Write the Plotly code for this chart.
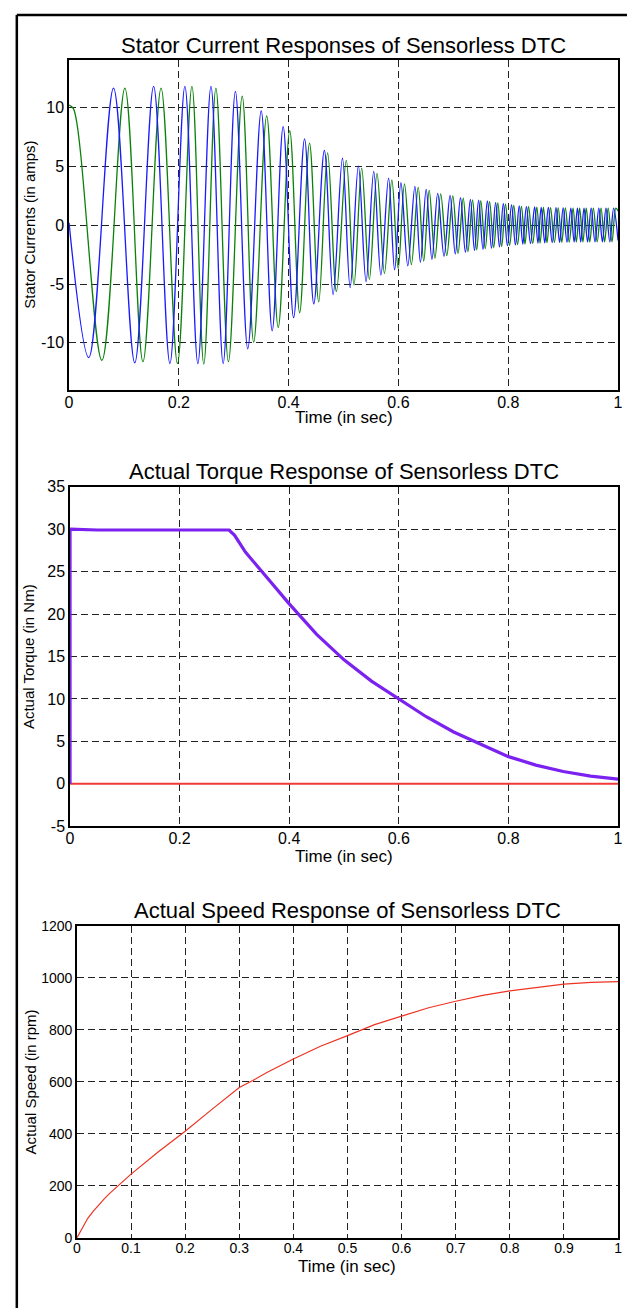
import plotly.graph_objects as go

# ---------------- data ----------------
# Plot 1: stator currents (extrema)
blue_peak_t = [0.081, 0.154, 0.211, 0.2585, 0.303, 0.350, 0.390, 0.429, 0.465, 0.498, 0.527, 0.555, 0.582,
               0.6045, 0.630, 0.6505, 0.6715, 0.694, 0.713, 0.731, 0.746, 0.762, 0.777, 0.791, 0.806, 0.820,
               0.833, 0.848, 0.860, 0.873, 0.887, 0.900, 0.914, 0.926, 0.938, 0.951, 0.965, 0.978, 0.992]
blue_peak_i = [11.64, 11.78, 11.78, 11.78, 11.36, 9.7, 8.36, 7.33, 6.35, 5.68, 5.03, 4.56, 4.0,
               3.6, 3.3, 3.03, 2.69, 2.52, 2.33, 2.19, 2.13, 2.05, 1.91, 1.83, 1.72, 1.63,
               1.58, 1.55, 1.5, 1.5, 1.48, 1.47, 1.45, 1.45, 1.45, 1.45, 1.45, 1.45, 1.45]
blue_trough_t = [0.036, 0.1197, 0.1837, 0.2346, 0.2807, 0.3255, 0.370, 0.409, 0.4458, 0.481, 0.512, 0.541,
                 0.568, 0.593, 0.617, 0.640, 0.661, 0.683, 0.7035, 0.722, 0.7385, 0.754, 0.7695, 0.784,
                 0.7985, 0.813, 0.8265, 0.8405, 0.854, 0.8665, 0.880, 0.8935, 0.907, 0.920, 0.932, 0.9445,
                 0.958, 0.9715, 0.985]
blue_trough_i = [-11.25, -11.7, -11.75, -11.75, -11.75, -10.5, -8.97, -7.86, -6.69, -5.9, -5.3, -4.8,
                 -4.24, -3.8, -3.45, -3.15, -2.9, -2.65, -2.45, -2.3, -2.15, -2.05, -1.95, -1.85,
                 -1.75, -1.68, -1.62, -1.57, -1.53, -1.5, -1.48, -1.46, -1.45, -1.44, -1.43, -1.43,
                 -1.42, -1.42, -1.42]
blue_ends_t = [0.0, 1.0]
blue_ends_i = [0.2, -1.3]

green_peak_t = [0.1017, 0.1676, 0.2238, 0.2675, 0.3154, 0.360, 0.402, 0.438, 0.471, 0.505, 0.533, 0.561,
                0.588, 0.611, 0.636, 0.656, 0.677, 0.699, 0.718, 0.735, 0.750, 0.766, 0.781, 0.795,
                0.810, 0.824, 0.837, 0.852, 0.864, 0.877, 0.891, 0.904, 0.918, 0.930, 0.942, 0.955,
                0.969, 0.982, 0.996]
green_peak_i = [11.64, 11.64, 11.78, 11.64, 10.95, 9.28, 8.02, 6.96, 6.13, 5.5, 4.85, 4.4,
                3.85, 3.5, 3.2, 2.95, 2.65, 2.48, 2.3, 2.15, 2.08, 2.0, 1.88, 1.78,
                1.68, 1.6, 1.56, 1.52, 1.5, 1.48, 1.47, 1.46, 1.45, 1.45, 1.45, 1.45,
                1.45, 1.45, 1.45]
green_trough_t = [0.0598, 0.1346, 0.1975, 0.2454, 0.2903, 0.3363, 0.381, 0.420, 0.4548, 0.487, 0.519,
                  0.547, 0.5745, 0.5995, 0.6235, 0.646, 0.6665, 0.688, 0.7085, 0.7265, 0.7425, 0.758,
                  0.7735, 0.788, 0.8025, 0.817, 0.8305, 0.8445, 0.858, 0.8705, 0.884, 0.8975, 0.911,
                  0.924, 0.936, 0.9485, 0.962, 0.9755, 0.989]
green_trough_i = [-11.48, -11.6, -11.75, -11.8, -11.6, -9.94, -8.69, -7.44, -6.52, -5.63, -5.1,
                  -4.6, -4.1, -3.7, -3.35, -3.05, -2.8, -2.58, -2.4, -2.25, -2.1, -2.0,
                  -1.9, -1.8, -1.72, -1.65, -1.6, -1.55, -1.52, -1.49, -1.47, -1.46, -1.45,
                  -1.44, -1.43, -1.43, -1.42, -1.42, -1.42]
green_ends_t = [0.0, 0.008, 1.0]
green_ends_i = [10.2, 9.9, 1.2]

# Plot 2: torque
torque_t = [0.0, 0.0, 0.05, 0.1, 0.15, 0.2, 0.25, 0.29, 0.30, 0.32, 0.35, 0.40, 0.45, 0.50, 0.55,
            0.60, 0.65, 0.70, 0.75, 0.80, 0.85, 0.90, 0.95, 1.0]
torque_v = [0, 30, 29.9, 29.9, 29.9, 29.9, 29.9, 29.9, 29.3, 27.3, 25.0, 21.2, 17.6, 14.6, 12.1,
            10.0, 7.9, 6.1, 4.6, 3.2, 2.2, 1.45, 0.9, 0.55]
load_t = [0.0, 1.0]
load_v = [0.0, 0.0]

# Plot 3: speed
speed_t = [0, 0.01, 0.02, 0.03, 0.04, 0.05, 0.06, 0.072, 0.1, 0.15, 0.2, 0.25, 0.3, 0.325, 0.35, 0.4,
           0.45, 0.5, 0.55, 0.6, 0.65, 0.7, 0.75, 0.8, 0.85, 0.9, 0.95, 1.0]
speed_v = [0, 40, 75, 102, 127, 149, 170, 193, 245, 330, 410, 495, 578, 605, 635, 688,
           737, 778, 820, 853, 885, 910, 933, 950, 964, 976, 983, 986]

# tick labels (MATLAB style, hyphen minus)
x_ticks_a = [0, 0.2, 0.4, 0.6, 0.8, 1]
x_labels_a = ["0", "0.2", "0.4", "0.6", "0.8", "1"]
x_ticks_b = [0, 0.1, 0.2, 0.3, 0.4, 0.5, 0.6, 0.7, 0.8, 0.9, 1]
x_labels_b = ["0", "0.1", "0.2", "0.3", "0.4", "0.5", "0.6", "0.7", "0.8", "0.9", "1"]
y1_ticks = [-10, -5, 0, 5, 10]
y1_labels = ["-10", "-5", "0", "5", "10"]
y2_ticks = [-5, 0, 5, 10, 15, 20, 25, 30, 35]
y2_labels = ["-5", "0", "5", "10", "15", "20", "25", "30", "35"]
y3_ticks = [0, 200, 400, 600, 800, 1000, 1200]
y3_labels = ["0", "200", "400", "600", "800", "1000", "1200"]

titles = ["Stator Current Responses of Sensorless DTC",
          "Actual Torque Response of Sensorless DTC",
          "Actual Speed Response of Sensorless DTC"]
ytitles = ["Stator Currents (in amps)", "Actual Torque (in Nm)", "Actual Speed (in rpm)"]
xtitle = "Time (in sec)"


def merge(*pairs):
    pts = []
    for t, v in pairs:
        pts += list(zip(t, v))
    pts.sort(key=lambda p: p[0])
    return [p[0] for p in pts], [p[1] for p in pts]


bt, bi = merge((blue_ends_t, blue_ends_i), (blue_peak_t, blue_peak_i), (blue_trough_t, blue_trough_i))
gt, gi = merge((green_ends_t, green_ends_i), (green_peak_t, green_peak_i), (green_trough_t, green_trough_i))

# ---------------- layout geometry (pixels of the 627x1308 page) ----------------
W, H = 627, 1308
FONT = "Liberation Sans"


def px(x):
    return x / W


def py(y):
    return 1 - y / H


boxes = [  # left, right, top, bottom
    (66, 623, 53, 387),
    (67, 623, 485, 829),
    (74, 623, 930, 1246),
]

fig = go.Figure()

fig.add_trace(go.Scatter(x=gt, y=gi, mode="lines", line=dict(color="#0a820a", width=1.3, shape="spline", smoothing=1.0),
                         xaxis="x", yaxis="y", showlegend=False))
fig.add_trace(go.Scatter(x=bt, y=bi, mode="lines", line=dict(color="#1a1aff", width=1.3, shape="spline", smoothing=1.0),
                         xaxis="x", yaxis="y", showlegend=False))

fig.add_trace(go.Scatter(x=load_t, y=load_v, mode="lines", line=dict(color="#f03a3a", width=2),
                         xaxis="x2", yaxis="y2", showlegend=False))
fig.add_trace(go.Scatter(x=torque_t, y=torque_v, mode="lines",
                         line=dict(color="#7b22f0", width=3.2),
                         xaxis="x2", yaxis="y2", showlegend=False))

fig.add_trace(go.Scatter(x=speed_t, y=speed_v, mode="lines", line=dict(color="#ee3322", width=1.2),
                         xaxis="x3", yaxis="y3", showlegend=False))

grid = dict(showline=True, linecolor="black", linewidth=1.5, mirror=True,
            showgrid=True, gridcolor="#222222", gridwidth=1, griddash="7px,4px",
            zeroline=False, ticks="", fixedrange=True, ticklabeloverflow="allow")

tf_big = dict(family=FONT, size=16, color="black")
tf_small = dict(family=FONT, size=14, color="black")

lay = dict(
    width=W, height=H, margin=dict(l=0, r=0, t=0, b=0),
    paper_bgcolor="white", plot_bgcolor="white", showlegend=False,
)

xranges = [[0, 1], [0, 1], [0, 1]]
yranges = [[-14, 14], [-5, 35], [0, 1200]]
xt = [(x_ticks_a, x_labels_a), (x_ticks_a, x_labels_a), (x_ticks_b, x_labels_b)]
yt = [(y1_ticks, y1_labels), (y2_ticks, y2_labels), (y3_ticks, y3_labels)]
tfs = [tf_big, tf_big, tf_small]

annotations = []
for k, (l, r, t, b) in enumerate(boxes):
    sx = "" if k == 0 else str(k + 1)
    lay["xaxis" + sx] = dict(grid, domain=[px(l), px(r)], range=xranges[k],
                             tickvals=xt[k][0], ticktext=xt[k][1],
                             tickfont=tfs[k], anchor="y" + sx, ticklabelstandoff=-3)
    lay["yaxis" + sx] = dict(grid, domain=[py(b), py(t)], range=yranges[k],
                             tickvals=yt[k][0], ticktext=yt[k][1],
                             tickfont=tfs[k], anchor="x" + sx)

title_y = [38, 470, 914]
xtitle_y = [415, 860, 1275]
ytitle_x = [25, 25, 27]
for k, (l, r, t, b) in enumerate(boxes):
    cx = px((l + r) / 2)
    annotations.append(dict(text=titles[k], x=cx, y=py(title_y[k]), xref="paper", yref="paper",
                            xanchor="center", yanchor="middle", showarrow=False,
                            font=dict(family=FONT, size=22, color="black")))
    annotations.append(dict(text=xtitle, x=cx, y=py(xtitle_y[k]), xref="paper", yref="paper",
                            xanchor="center", yanchor="middle", showarrow=False,
                            font=dict(family=FONT, size=17, color="black")))
    annotations.append(dict(text=ytitles[k], x=px(ytitle_x[k]), y=py((t + b) / 2), xref="paper", yref="paper",
                            xanchor="center", yanchor="middle", showarrow=False, textangle=-90,
                            font=dict(family=FONT, size=15, color="black")))
lay["annotations"] = annotations

lay["shapes"] = [
    dict(type="line", xref="paper", yref="paper", x0=px(13), x1=px(13), y0=-0.01, y1=py(7),
         line=dict(color="black", width=2.5)),
    dict(type="line", xref="paper", yref="paper", x0=px(13), x1=1.01, y0=py(7), y1=py(7),
         line=dict(color="black", width=2.5)),
]

fig.update_layout(**lay)
fig.write_html("out.html", config={"displayModeBar": False},
               post_script="document.body.style.margin='0px';")
